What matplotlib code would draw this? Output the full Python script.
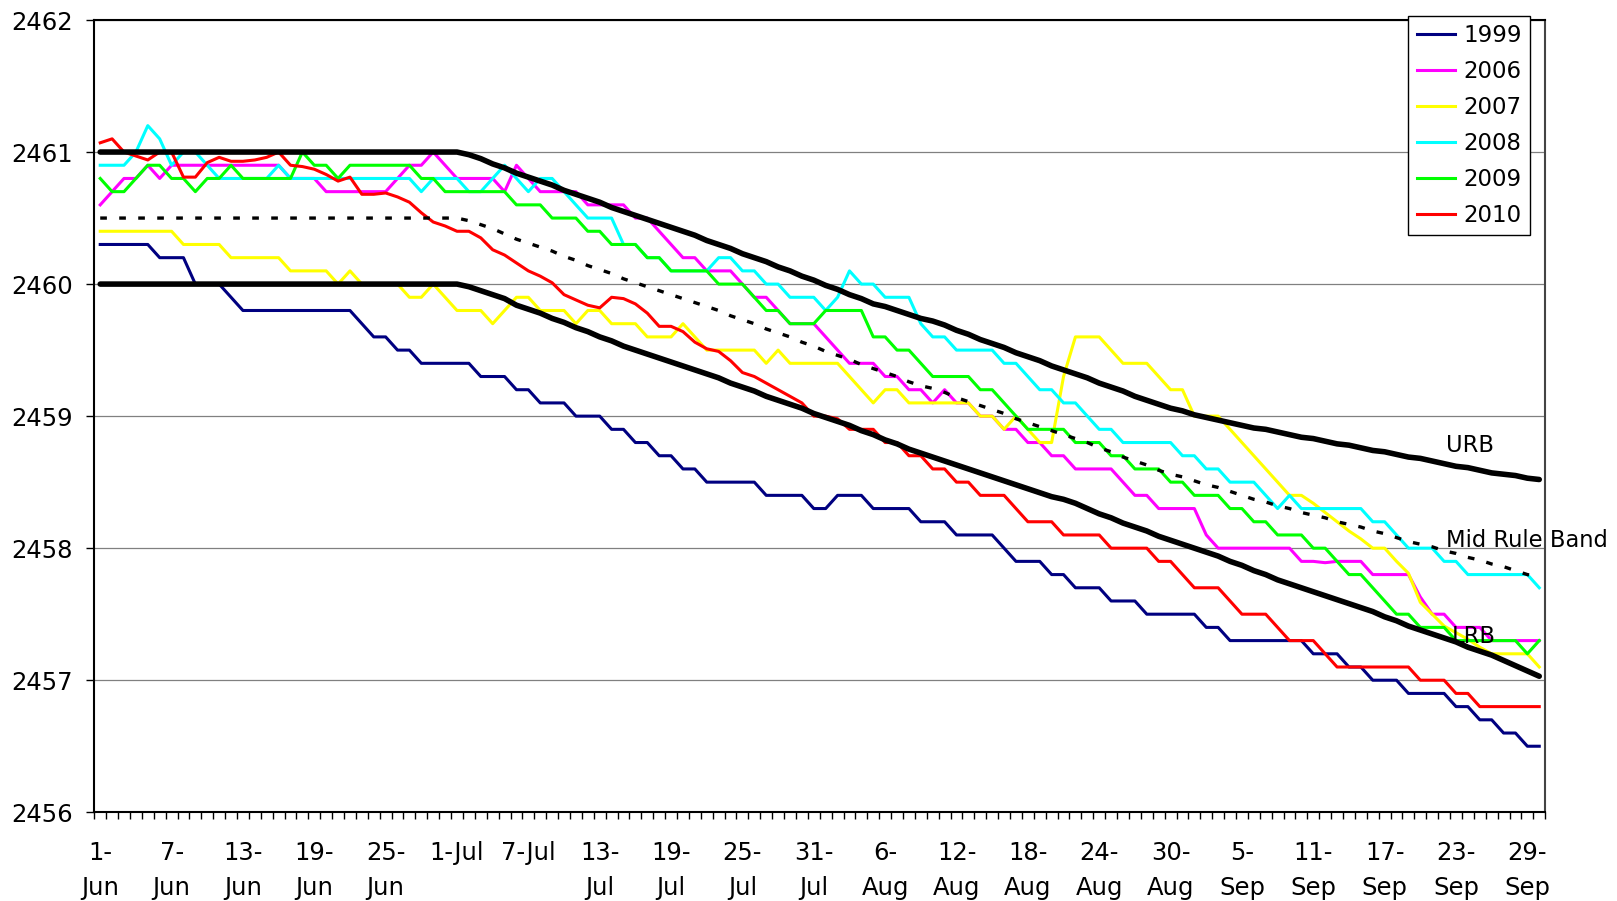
"""
Lake elevation vs rule bands, Jun 1 - Sep 30. Saves out.png
"""
import numpy as np
import matplotlib
matplotlib.use("Agg")
import matplotlib.pyplot as plt

plt.rcParams.update({"font.family": "DejaVu Sans", "font.size": 16})

# daily elevations, Jun 1 .. Sep 30 (122 days)
yr1999 = [2460.3, 2460.3, 2460.3, 2460.3, 2460.3, 2460.2, 2460.2, 2460.2, 2460.0, 2460.0,
          2460.0, 2459.9, 2459.8, 2459.8, 2459.8, 2459.8, 2459.8, 2459.8, 2459.8, 2459.8,
          2459.8, 2459.8, 2459.7, 2459.6, 2459.6, 2459.5, 2459.5, 2459.4, 2459.4, 2459.4,
          2459.4, 2459.4, 2459.3, 2459.3, 2459.3, 2459.2, 2459.2, 2459.1, 2459.1, 2459.1,
          2459.0, 2459.0, 2459.0, 2458.9, 2458.9, 2458.8, 2458.8, 2458.7, 2458.7, 2458.6,
          2458.6, 2458.5, 2458.5, 2458.5, 2458.5, 2458.5, 2458.4, 2458.4, 2458.4, 2458.4,
          2458.3, 2458.3, 2458.4, 2458.4, 2458.4, 2458.3, 2458.3, 2458.3, 2458.3, 2458.2,
          2458.2, 2458.2, 2458.1, 2458.1, 2458.1, 2458.1, 2458.0, 2457.9, 2457.9, 2457.9,
          2457.8, 2457.8, 2457.7, 2457.7, 2457.7, 2457.6, 2457.6, 2457.6, 2457.5, 2457.5,
          2457.5, 2457.5, 2457.5, 2457.4, 2457.4, 2457.3, 2457.3, 2457.3, 2457.3, 2457.3,
          2457.3, 2457.3, 2457.2, 2457.2, 2457.2, 2457.1, 2457.1, 2457.0, 2457.0, 2457.0,
          2456.9, 2456.9, 2456.9, 2456.9, 2456.8, 2456.8, 2456.7, 2456.7, 2456.6, 2456.6,
          2456.5, 2456.5]
yr2006 = [2460.6, 2460.7, 2460.8, 2460.8, 2460.9, 2460.8, 2460.9, 2460.9, 2460.9, 2460.9,
          2460.9, 2460.9, 2460.9, 2460.9, 2460.9, 2460.9, 2460.8, 2460.8, 2460.8, 2460.7,
          2460.7, 2460.7, 2460.7, 2460.7, 2460.7, 2460.8, 2460.9, 2460.9, 2461.0, 2460.9,
          2460.8, 2460.8, 2460.8, 2460.8, 2460.7, 2460.9, 2460.8, 2460.7, 2460.7, 2460.7,
          2460.7, 2460.6, 2460.6, 2460.6, 2460.6, 2460.5, 2460.5, 2460.4, 2460.3, 2460.2,
          2460.2, 2460.1, 2460.1, 2460.1, 2460.0, 2459.9, 2459.9, 2459.8, 2459.7, 2459.7,
          2459.7, 2459.6, 2459.5, 2459.4, 2459.4, 2459.4, 2459.3, 2459.3, 2459.2, 2459.2,
          2459.1, 2459.2, 2459.1, 2459.1, 2459.0, 2459.0, 2458.9, 2458.9, 2458.8, 2458.8,
          2458.7, 2458.7, 2458.6, 2458.6, 2458.6, 2458.6, 2458.5, 2458.4, 2458.4, 2458.3,
          2458.3, 2458.3, 2458.3, 2458.1, 2458.0, 2458.0, 2458.0, 2458.0, 2458.0, 2458.0,
          2458.0, 2457.9, 2457.9, 2457.89, 2457.9, 2457.9, 2457.9, 2457.8, 2457.8, 2457.8,
          2457.8, 2457.63, 2457.5, 2457.5, 2457.4, 2457.4, 2457.4, 2457.3, 2457.3, 2457.3,
          2457.3, 2457.3]
yr2007 = [2460.4, 2460.4, 2460.4, 2460.4, 2460.4, 2460.4, 2460.4, 2460.3, 2460.3, 2460.3,
          2460.3, 2460.2, 2460.2, 2460.2, 2460.2, 2460.2, 2460.1, 2460.1, 2460.1, 2460.1,
          2460.0, 2460.1, 2460.0, 2460.0, 2460.0, 2460.0, 2459.9, 2459.9, 2460.0, 2459.9,
          2459.8, 2459.8, 2459.8, 2459.7, 2459.8, 2459.9, 2459.9, 2459.8, 2459.8, 2459.8,
          2459.7, 2459.8, 2459.8, 2459.7, 2459.7, 2459.7, 2459.6, 2459.6, 2459.6, 2459.7,
          2459.6, 2459.5, 2459.5, 2459.5, 2459.5, 2459.5, 2459.4, 2459.5, 2459.4, 2459.4,
          2459.4, 2459.4, 2459.4, 2459.3, 2459.2, 2459.1, 2459.2, 2459.2, 2459.1, 2459.1,
          2459.1, 2459.1, 2459.1, 2459.1, 2459.0, 2459.0, 2458.9, 2459.0, 2458.9, 2458.8,
          2458.8, 2459.3, 2459.6, 2459.6, 2459.6, 2459.5, 2459.4, 2459.4, 2459.4, 2459.3,
          2459.2, 2459.2, 2459.0, 2459.0, 2459.0, 2458.9, 2458.8, 2458.7, 2458.6, 2458.5,
          2458.4, 2458.4, 2458.34, 2458.27, 2458.2, 2458.13, 2458.07, 2458.0, 2458.0, 2457.9,
          2457.81, 2457.59, 2457.5, 2457.41, 2457.36, 2457.31, 2457.25, 2457.2, 2457.2, 2457.2,
          2457.2, 2457.1]
yr2008 = [2460.9, 2460.9, 2460.9, 2461.0, 2461.2, 2461.1, 2460.9, 2461.0, 2461.0, 2460.9,
          2460.8, 2460.8, 2460.8, 2460.8, 2460.8, 2460.9, 2460.8, 2460.8, 2460.8, 2460.8,
          2460.8, 2460.8, 2460.8, 2460.8, 2460.8, 2460.8, 2460.8, 2460.7, 2460.8, 2460.8,
          2460.8, 2460.7, 2460.7, 2460.8, 2460.9, 2460.8, 2460.7, 2460.8, 2460.8, 2460.7,
          2460.6, 2460.5, 2460.5, 2460.5, 2460.3, 2460.3, 2460.2, 2460.2, 2460.1, 2460.1,
          2460.1, 2460.1, 2460.2, 2460.2, 2460.1, 2460.1, 2460.0, 2460.0, 2459.9, 2459.9,
          2459.9, 2459.8, 2459.9, 2460.1, 2460.0, 2460.0, 2459.9, 2459.9, 2459.9, 2459.7,
          2459.6, 2459.6, 2459.5, 2459.5, 2459.5, 2459.5, 2459.4, 2459.4, 2459.3, 2459.2,
          2459.2, 2459.1, 2459.1, 2459.0, 2458.9, 2458.9, 2458.8, 2458.8, 2458.8, 2458.8,
          2458.8, 2458.7, 2458.7, 2458.6, 2458.6, 2458.5, 2458.5, 2458.5, 2458.4, 2458.3,
          2458.4, 2458.3, 2458.3, 2458.3, 2458.3, 2458.3, 2458.3, 2458.2, 2458.2, 2458.1,
          2458.0, 2458.0, 2458.0, 2457.9, 2457.9, 2457.8, 2457.8, 2457.8, 2457.8, 2457.8,
          2457.8, 2457.7]
yr2009 = [2460.8, 2460.7, 2460.7, 2460.8, 2460.9, 2460.9, 2460.8, 2460.8, 2460.7, 2460.8,
          2460.8, 2460.9, 2460.8, 2460.8, 2460.8, 2460.8, 2460.8, 2461.0, 2460.9, 2460.9,
          2460.8, 2460.9, 2460.9, 2460.9, 2460.9, 2460.9, 2460.9, 2460.8, 2460.8, 2460.7,
          2460.7, 2460.7, 2460.7, 2460.7, 2460.7, 2460.6, 2460.6, 2460.6, 2460.5, 2460.5,
          2460.5, 2460.4, 2460.4, 2460.3, 2460.3, 2460.3, 2460.2, 2460.2, 2460.1, 2460.1,
          2460.1, 2460.1, 2460.0, 2460.0, 2460.0, 2459.9, 2459.8, 2459.8, 2459.7, 2459.7,
          2459.7, 2459.8, 2459.8, 2459.8, 2459.8, 2459.6, 2459.6, 2459.5, 2459.5, 2459.4,
          2459.3, 2459.3, 2459.3, 2459.3, 2459.2, 2459.2, 2459.1, 2459.0, 2458.9, 2458.9,
          2458.9, 2458.9, 2458.8, 2458.8, 2458.8, 2458.7, 2458.7, 2458.6, 2458.6, 2458.6,
          2458.5, 2458.5, 2458.4, 2458.4, 2458.4, 2458.3, 2458.3, 2458.2, 2458.2, 2458.1,
          2458.1, 2458.1, 2458.0, 2458.0, 2457.9, 2457.8, 2457.8, 2457.7, 2457.6, 2457.5,
          2457.5, 2457.4, 2457.4, 2457.4, 2457.3, 2457.3, 2457.3, 2457.3, 2457.3, 2457.3,
          2457.2, 2457.3]
yr2010 = [2461.07, 2461.10, 2461.00, 2460.97, 2460.94, 2461.00, 2461.00, 2460.81, 2460.81, 2460.92,
          2460.96, 2460.93, 2460.93, 2460.94, 2460.96, 2461.00, 2460.90, 2460.89, 2460.87, 2460.83,
          2460.78, 2460.81, 2460.68, 2460.68, 2460.69, 2460.66, 2460.62, 2460.54, 2460.47, 2460.44,
          2460.40, 2460.40, 2460.35, 2460.26, 2460.22, 2460.16, 2460.10, 2460.06, 2460.01, 2459.92,
          2459.88, 2459.84, 2459.82, 2459.90, 2459.89, 2459.85, 2459.78, 2459.68, 2459.68, 2459.64,
          2459.56, 2459.51, 2459.49, 2459.42, 2459.33, 2459.30, 2459.25, 2459.20, 2459.15, 2459.10,
          2459.00, 2459.00, 2458.98, 2458.90, 2458.90, 2458.90, 2458.80, 2458.80, 2458.70, 2458.70,
          2458.60, 2458.60, 2458.50, 2458.50, 2458.40, 2458.40, 2458.40, 2458.30, 2458.20, 2458.20,
          2458.20, 2458.10, 2458.10, 2458.10, 2458.10, 2458.00, 2458.00, 2458.00, 2458.00, 2457.90,
          2457.90, 2457.80, 2457.70, 2457.70, 2457.70, 2457.60, 2457.50, 2457.50, 2457.50, 2457.40,
          2457.30, 2457.30, 2457.30, 2457.20, 2457.10, 2457.10, 2457.10, 2457.10, 2457.10, 2457.10,
          2457.10, 2457.00, 2457.00, 2457.00, 2456.90, 2456.90, 2456.80, 2456.80, 2456.80, 2456.80,
          2456.80, 2456.80]

# rule bands
urb = [2461.00, 2461.00, 2461.00, 2461.00, 2461.00, 2461.00, 2461.00, 2461.00, 2461.00, 2461.00,
       2461.00, 2461.00, 2461.00, 2461.00, 2461.00, 2461.00, 2461.00, 2461.00, 2461.00, 2461.00,
       2461.00, 2461.00, 2461.00, 2461.00, 2461.00, 2461.00, 2461.00, 2461.00, 2461.00, 2461.00,
       2461.00, 2460.98, 2460.95, 2460.91, 2460.88, 2460.84, 2460.81, 2460.78, 2460.75, 2460.71,
       2460.68, 2460.65, 2460.62, 2460.58, 2460.55, 2460.52, 2460.49, 2460.46, 2460.43, 2460.40,
       2460.37, 2460.33, 2460.30, 2460.27, 2460.23, 2460.20, 2460.17, 2460.13, 2460.10, 2460.06,
       2460.03, 2459.99, 2459.96, 2459.92, 2459.89, 2459.85, 2459.83, 2459.80, 2459.77, 2459.74,
       2459.72, 2459.69, 2459.65, 2459.62, 2459.58, 2459.55, 2459.52, 2459.48, 2459.45, 2459.42,
       2459.38, 2459.35, 2459.32, 2459.29, 2459.25, 2459.22, 2459.19, 2459.15, 2459.12, 2459.09,
       2459.06, 2459.04, 2459.01, 2458.99, 2458.97, 2458.95, 2458.93, 2458.91, 2458.90, 2458.88,
       2458.86, 2458.84, 2458.83, 2458.81, 2458.79, 2458.78, 2458.76, 2458.74, 2458.73, 2458.71,
       2458.69, 2458.68, 2458.66, 2458.64, 2458.62, 2458.61, 2458.59, 2458.57, 2458.56, 2458.55,
       2458.53, 2458.52]
mid = [2460.50, 2460.50, 2460.50, 2460.50, 2460.50, 2460.50, 2460.50, 2460.50, 2460.50, 2460.50,
       2460.50, 2460.50, 2460.50, 2460.50, 2460.50, 2460.50, 2460.50, 2460.50, 2460.50, 2460.50,
       2460.50, 2460.50, 2460.50, 2460.50, 2460.50, 2460.50, 2460.50, 2460.50, 2460.50, 2460.50,
       2460.50, 2460.48, 2460.45, 2460.42, 2460.38, 2460.34, 2460.31, 2460.28, 2460.25, 2460.21,
       2460.18, 2460.14, 2460.11, 2460.08, 2460.04, 2460.01, 2459.98, 2459.95, 2459.92, 2459.89,
       2459.86, 2459.83, 2459.80, 2459.76, 2459.73, 2459.70, 2459.66, 2459.63, 2459.60, 2459.56,
       2459.53, 2459.49, 2459.46, 2459.43, 2459.39, 2459.36, 2459.33, 2459.30, 2459.26, 2459.23,
       2459.21, 2459.18, 2459.14, 2459.11, 2459.08, 2459.05, 2459.02, 2458.98, 2458.95, 2458.92,
       2458.89, 2458.86, 2458.83, 2458.80, 2458.76, 2458.73, 2458.69, 2458.66, 2458.63, 2458.59,
       2458.56, 2458.54, 2458.51, 2458.48, 2458.46, 2458.43, 2458.40, 2458.37, 2458.35, 2458.32,
       2458.30, 2458.27, 2458.25, 2458.23, 2458.20, 2458.18, 2458.16, 2458.13, 2458.11, 2458.08,
       2458.05, 2458.03, 2458.01, 2457.98, 2457.96, 2457.93, 2457.91, 2457.88, 2457.86, 2457.83,
       2457.80, 2457.78]
lrb = [2460.00, 2460.00, 2460.00, 2460.00, 2460.00, 2460.00, 2460.00, 2460.00, 2460.00, 2460.00,
       2460.00, 2460.00, 2460.00, 2460.00, 2460.00, 2460.00, 2460.00, 2460.00, 2460.00, 2460.00,
       2460.00, 2460.00, 2460.00, 2460.00, 2460.00, 2460.00, 2460.00, 2460.00, 2460.00, 2460.00,
       2460.00, 2459.98, 2459.95, 2459.92, 2459.89, 2459.84, 2459.81, 2459.78, 2459.74, 2459.71,
       2459.67, 2459.64, 2459.60, 2459.57, 2459.53, 2459.50, 2459.47, 2459.44, 2459.41, 2459.38,
       2459.35, 2459.32, 2459.29, 2459.25, 2459.22, 2459.19, 2459.15, 2459.12, 2459.09, 2459.06,
       2459.02, 2458.99, 2458.96, 2458.93, 2458.89, 2458.86, 2458.82, 2458.79, 2458.75, 2458.72,
       2458.69, 2458.66, 2458.63, 2458.60, 2458.57, 2458.54, 2458.51, 2458.48, 2458.45, 2458.42,
       2458.39, 2458.37, 2458.34, 2458.30, 2458.26, 2458.23, 2458.19, 2458.16, 2458.13, 2458.09,
       2458.06, 2458.03, 2458.00, 2457.97, 2457.94, 2457.90, 2457.87, 2457.83, 2457.80, 2457.76,
       2457.73, 2457.70, 2457.67, 2457.64, 2457.61, 2457.58, 2457.55, 2457.52, 2457.48, 2457.45,
       2457.41, 2457.38, 2457.35, 2457.32, 2457.29, 2457.25, 2457.22, 2457.19, 2457.15, 2457.11,
       2457.07, 2457.03]

years = ["1999", "2006", "2007", "2008", "2009", "2010"]
year_colors = ["#000080", "#FF00FF", "#FFFF00", "#00FFFF", "#00FF00", "#FF0000"]
tick_labels = ["1-\nJun", "7-\nJun", "13-\nJun", "19-\nJun", "25-\nJun", "1-Jul", "7-Jul",
               "13-\nJul", "19-\nJul", "25-\nJul", "31-\nJul", "6-\nAug", "12-\nAug", "18-\nAug",
               "24-\nAug", "30-\nAug", "5-\nSep", "11-\nSep", "17-\nSep", "23-\nSep", "29-\nSep"]

days = np.arange(len(urb))

fig = plt.figure(figsize=(16.17, 9.01), dpi=100)
ax = fig.add_axes([0.0583, 0.0985, 0.8973, 0.8793])

handles = []
for lab, col, vals in zip(years, year_colors,
                          [yr1999, yr2006, yr2007, yr2008, yr2009, yr2010]):
    h, = ax.plot(days, vals, color=col, lw=2.2, label=lab, zorder=3)
    handles.append(h)

ax.plot(days, urb, color="black", lw=4, zorder=4, solid_capstyle="round")
ax.plot(days, lrb, color="black", lw=4, zorder=4, solid_capstyle="round")
ax.plot(days, mid, color="black", lw=2.4, ls=(0, (2, 3.7)), zorder=4)

ax.text(113.2, 2458.78, "URB", va="center", ha="left", fontsize=16.3)
ax.text(113.2, 2458.06, "Mid Rule Band", va="center", ha="left", fontsize=16.3)
ax.text(113.6, 2457.33, "LRB", va="center", ha="left", fontsize=16.3)

ax.set_xlim(-0.5, len(urb) - 0.5)
ax.set_ylim(2456, 2462)
ax.set_yticks(range(2456, 2463))
ax.yaxis.grid(True, color="#808080", lw=0.9)
ax.set_axisbelow(True)

ax.set_xticks(days[::6])
ax.set_xticklabels(tick_labels, multialignment="center", linespacing=1.55)
ax.set_xticks(np.arange(-0.5, len(urb), 1), minor=True)
ax.tick_params(axis="x", which="major", length=0, pad=21, labelsize=17.5)
ax.tick_params(axis="x", which="minor", length=5, width=1, direction="out")
ax.tick_params(axis="y", length=5.5, width=1, direction="out", pad=10, labelsize=17.5)

for side in ["left", "bottom", "top"]:
    ax.spines[side].set_linewidth(1.5)
    ax.spines[side].set_color("black")
ax.spines["right"].set_linewidth(1.5)
ax.spines["right"].set_color("#444444")

leg = ax.legend(handles=handles, loc="upper right", bbox_to_anchor=(0.9462, 0.9822),
                bbox_transform=fig.transFigure, fancybox=False, framealpha=1,
                edgecolor="black", fontsize=16.5, handlelength=1.7, handletextpad=0.35,
                labelspacing=0.57, borderpad=0.35, borderaxespad=0)
leg.get_frame().set_linewidth(1)

fig.savefig("out.png", dpi=100)
